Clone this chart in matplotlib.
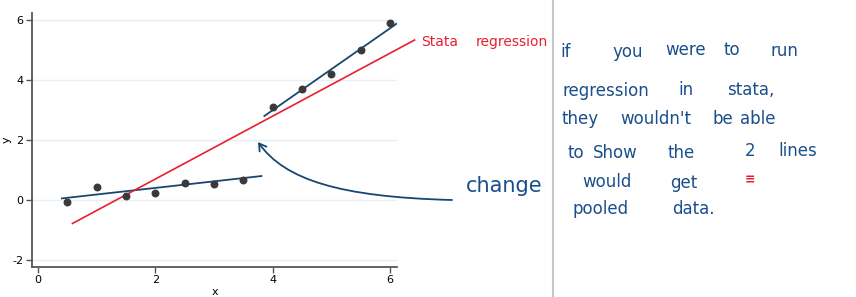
import numpy as np
import matplotlib.pyplot as plt
from matplotlib.patches import FancyArrowPatch
from matplotlib.path import Path

# =====================
# 1. 数据
# =====================
x_pts = [0.5, 1.0, 1.5, 2.0, 2.5, 3.0, 3.5, 4.0, 4.5, 5.0, 5.5, 6.0]
y_pts = [-0.05, 0.43, 0.14, 0.25, 0.57, 0.55, 0.68, 3.1, 3.7, 4.2, 5.0, 5.9]

# 两段分组回归线 (端点读自原图)
fit1_x = [0.41, 3.81]
fit1_y = [0.055, 0.80]
fit2_x = [3.86, 6.14]
fit2_y = [2.80, 5.91]
# 手画的合并回归线
pooled_x = [0.59, 6.42]
pooled_y = [-0.78, 5.33]

x_ticks = [0, 2, 4, 6]
y_ticks = [-2, 0, 2, 4, 6]

# 手写批注: (单词, 像素x, 像素y)
note_words = [
    ("if", 560, 52), ("you", 612, 52), ("were", 665, 50), ("to", 723, 50), ("run", 770, 51),
    ("regression", 562, 91), ("in", 678, 90), ("stata,", 727, 90),
    ("they", 562, 119), ("wouldn't", 620, 119), ("be", 713, 119), ("able", 740, 119),
    ("to", 568, 153), ("Show", 593, 153), ("the", 668, 153), ("2", 745, 151), ("lines", 778, 151),
    ("would", 582, 182), ("get", 670, 183),
    ("pooled", 573, 209), ("data.", 672, 209),
]
red_words = [("Stata", 421, 42), ("regression", 476, 42)]

BLUE = '#1a4f8b'
NAVY = '#1a476f'
RED = '#e8202e'
W, H = 856, 297

def fx(px):
    return px / W

def fy(py):
    return 1 - py / H

# =====================
# 2. 绘图
# =====================
fig = plt.figure(figsize=(W / 100, H / 100), dpi=100)
ax = fig.add_axes([fx(32), fy(267), fx(397) - fx(32), fy(13) - fy(267)])

for yt in y_ticks:
    ax.axhline(yt, color='#e6eff1', linewidth=1.0, zorder=0)

ax.scatter(x_pts, y_pts, s=22, color='#3a3a3a', zorder=3)
ax.plot(fit1_x, fit1_y, color=NAVY, linewidth=1.3, zorder=2)
ax.plot(fit2_x, fit2_y, color=NAVY, linewidth=1.3, zorder=2)
ax.plot(pooled_x, pooled_y, color=RED, linewidth=1.2, zorder=2, clip_on=False)

ax.set_xlim(-0.1, 6.12)
ax.set_ylim(-2.23, 6.23)
ax.set_xticks(x_ticks)
ax.set_yticks(y_ticks)
ax.set_xticklabels([str(v) for v in x_ticks])
ax.set_yticklabels([str(v) for v in y_ticks])
ax.tick_params(labelsize=8, length=4, width=1, color='#555555', pad=2)
for side in ['top', 'right']:
    ax.spines[side].set_visible(False)
for side in ['left', 'bottom']:
    ax.spines[side].set_color('#555555')
    ax.spines[side].set_linewidth(1.3)
ax.set_xlabel('x', fontsize=8, labelpad=1)
ax.set_ylabel('y', fontsize=8, va='center')
ax.yaxis.set_label_coords(-0.07, 0.5)

# 分隔竖线
fig.add_artist(plt.Line2D([fx(553), fx(553)], [0, 1], color='#c8c8c8', linewidth=1.5))

# 红色标注
for word, px, py in red_words:
    fig.text(fx(px), fy(py), word, color=RED, fontsize=10, family='DejaVu Sans',
             va='center', ha='left')

# 手绘箭头
verts = [(fx(452), fy(200)), (fx(340), fy(197)), (fx(285), fy(180)), (fx(258), fy(142))]
arrow_path = Path(verts, [Path.MOVETO, Path.CURVE4, Path.CURVE4, Path.CURVE4])
arrow = FancyArrowPatch(path=arrow_path, arrowstyle='->,head_length=5,head_width=3',
                        color=NAVY, linewidth=1.3, transform=fig.transFigure)
fig.add_artist(arrow)

fig.text(fx(466), fy(186), 'change', color=BLUE, fontsize=15, family='DejaVu Sans',
         va='center', ha='left')

for word, px, py in note_words:
    fig.text(fx(px), fy(py), word, color=BLUE, fontsize=12, family='DejaVu Sans',
             va='center', ha='left')

# 红色小记号
fig.text(fx(745), fy(180), '≡', color=RED, fontsize=9, fontweight='bold',
         va='center', ha='left')

fig.savefig('out.png', dpi=100)
